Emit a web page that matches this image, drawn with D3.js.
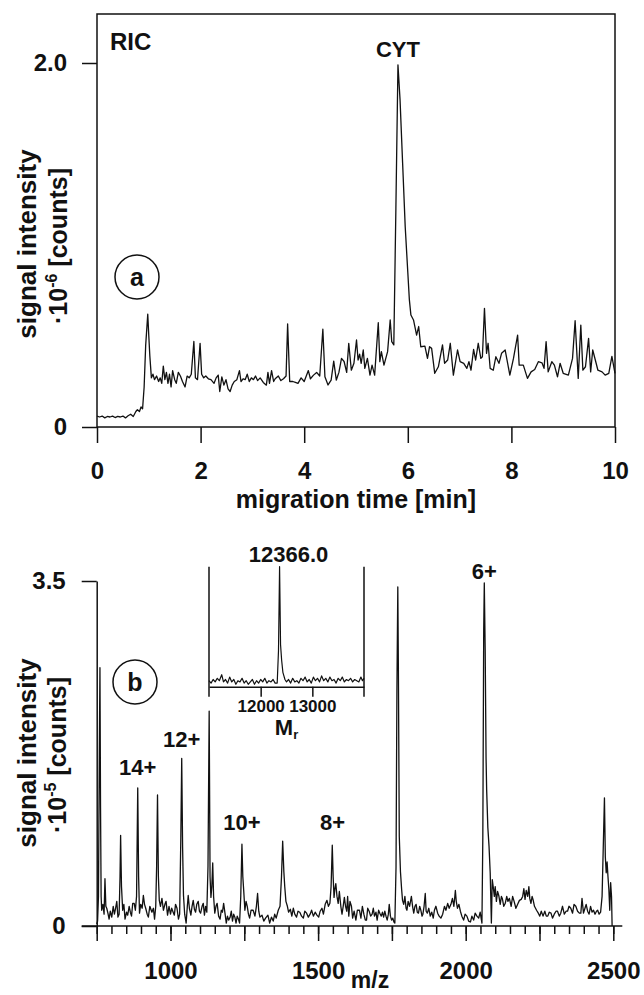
<!DOCTYPE html>
<html>
<head>
<meta charset="utf-8">
<script src="https://cdn.jsdelivr.net/npm/d3@7"></script>
<style>
  html, body { margin: 0; padding: 0; background: #fff; }
  svg { display: block; }
  text { font-family: "Liberation Sans", Arial, Helvetica, sans-serif; font-weight: bold; fill: #111; }
</style>
</head>
<body>
<div id="chart"></div>
<script>
// Panel a: reconstructed ion chromatogram, [migration time (min), intensity ·10^-6]
const ricData = [
  [0.00,0.06],[0.05,0.055],[0.10,0.06],[0.15,0.05],[0.20,0.058],[0.25,0.055],[0.30,0.06],[0.35,0.052],
  [0.40,0.058],[0.45,0.055],[0.50,0.06],[0.55,0.05],[0.60,0.062],[0.65,0.07],[0.70,0.058],[0.75,0.085],
  [0.78,0.095],[0.82,0.085],[0.85,0.11],[0.88,0.10],[0.91,0.22],[0.94,0.45],[0.98,0.62],[1.00,0.50],
  [1.02,0.39],[1.05,0.27],[1.08,0.29],[1.11,0.26],[1.15,0.28],[1.19,0.25],[1.22,0.27],[1.25,0.24],
  [1.28,0.335],[1.31,0.26],[1.34,0.30],[1.37,0.24],[1.40,0.29],[1.43,0.22],[1.46,0.31],[1.50,0.26],
  [1.53,0.24],[1.57,0.30],[1.61,0.28],[1.65,0.25],[1.70,0.22],[1.74,0.28],[1.78,0.27],[1.82,0.29],
  [1.87,0.47],[1.90,0.27],[1.94,0.26],[1.99,0.46],[2.02,0.29],[2.06,0.27],[2.10,0.28],[2.15,0.265],
  [2.20,0.26],[2.26,0.24],[2.30,0.27],[2.34,0.285],[2.37,0.195],[2.41,0.275],[2.45,0.23],[2.49,0.26],
  [2.53,0.21],[2.57,0.195],[2.61,0.23],[2.65,0.25],[2.70,0.26],[2.75,0.31],[2.78,0.25],[2.82,0.265],
  [2.86,0.26],[2.90,0.29],[2.94,0.25],[2.98,0.27],[3.02,0.26],[3.06,0.28],[3.10,0.255],[3.15,0.27],
  [3.21,0.245],[3.27,0.23],[3.30,0.30],[3.33,0.24],[3.37,0.31],[3.41,0.25],[3.44,0.265],[3.50,0.28],
  [3.55,0.255],[3.60,0.265],[3.65,0.28],[3.68,0.566],[3.72,0.25],[3.78,0.25],[3.83,0.245],[3.88,0.24],
  [3.94,0.27],[4.00,0.25],[4.08,0.31],[4.12,0.265],[4.18,0.285],[4.24,0.30],[4.30,0.28],[4.36,0.537],
  [4.40,0.276],[4.46,0.231],[4.52,0.258],[4.57,0.362],[4.62,0.258],[4.67,0.30],[4.72,0.377],[4.77,0.36],
  [4.82,0.30],[4.86,0.46],[4.91,0.312],[4.96,0.35],[5.01,0.478],[5.04,0.368],[5.07,0.40],[5.10,0.35],
  [5.14,0.423],[5.17,0.322],[5.22,0.377],[5.27,0.285],[5.31,0.34],[5.36,0.285],[5.43,0.573],[5.46,0.359],
  [5.49,0.414],[5.54,0.34],[5.61,0.414],[5.66,0.588],[5.69,0.469],[5.73,0.451],[5.77,1.2],[5.81,1.99],
  [5.85,1.8],[5.90,1.45],[5.95,1.1],[6.00,0.85],[6.03,0.70],[6.06,0.615],[6.11,0.588],[6.17,0.505],
  [6.21,0.552],[6.25,0.441],[6.33,0.444],[6.38,0.377],[6.42,0.441],[6.46,0.432],[6.52,0.295],[6.59,0.331],
  [6.67,0.451],[6.71,0.35],[6.77,0.368],[6.82,0.46],[6.88,0.285],[6.96,0.423],[7.01,0.359],[7.08,0.35],
  [7.14,0.322],[7.18,0.359],[7.22,0.312],[7.27,0.426],[7.31,0.368],[7.36,0.46],[7.41,0.377],[7.44,0.386],
  [7.48,0.652],[7.52,0.405],[7.55,0.46],[7.59,0.322],[7.65,0.312],[7.70,0.386],[7.76,0.35],[7.81,0.405],
  [7.88,0.423],[7.97,0.285],[8.04,0.377],[8.12,0.505],[8.15,0.34],[8.23,0.34],[8.31,0.267],[8.38,0.303],
  [8.45,0.316],[8.52,0.359],[8.59,0.353],[8.63,0.322],[8.67,0.469],[8.71,0.303],[8.78,0.359],[8.83,0.34],
  [8.89,0.276],[8.94,0.35],[9.00,0.295],[9.10,0.285],[9.18,0.377],[9.23,0.584],[9.29,0.267],[9.34,0.56],
  [9.38,0.312],[9.43,0.331],[9.49,0.487],[9.53,0.303],[9.57,0.423],[9.62,0.368],[9.67,0.312],[9.75,0.303],
  [9.81,0.285],[9.88,0.295],[9.94,0.388],[10.0,0.295]
];

// Panel b: mass spectrum, [m/z, intensity ·10^-5]
const msData = [
  [750,0.02],[753,0.05],[756,0.3],[759,1.8],[761,2.62],[763,1.2],[765,0.3],[767,0.16],[771,0.22],[775,0.12],
  [778,0.48],[781,0.2],[784,0.18],[788,0.13],[792,0.07],[796,0.15],[801,0.09],[806,0.2],[810,0.12],[814,0.18],
  [818,0.25],[822,0.09],[826,0.12],[829,0.5],[831,0.92],[834,0.4],[838,0.16],[842,0.22],[846,0.07],[851,0.14],
  [855,0.11],[860,0.2],[864,0.14],[868,0.1],[872,0.23],[877,0.23],[881,0.16],[885,0.3],[889,1.40],[892,0.5],
  [895,0.13],[899,0.22],[904,0.18],[908,0.31],[912,0.22],[916,0.18],[921,0.12],[925,0.09],[930,0.2],[937,0.14],
  [942,0.18],[946,0.07],[950,0.2],[953,0.6],[956,1.33],[959,0.5],[962,0.26],[966,0.2],[971,0.28],[976,0.16],
  [981,0.22],[985,0.25],[990,0.11],[995,0.2],[1000,0.12],[1004,0.18],[1009,0.14],[1013,0.11],[1017,0.22],[1022,0.18],
  [1027,0.07],[1031,0.12],[1035,0.9],[1038,1.70],[1041,0.8],[1044,0.31],[1048,0.12],[1053,0.03],[1057,0.2],[1060,0.31],
  [1064,0.18],[1069,0.11],[1073,0.2],[1077,0.26],[1081,0.17],[1085,0.14],[1089,0.22],[1094,0.25],[1098,0.15],[1102,0.13],
  [1107,0.2],[1111,0.23],[1115,0.11],[1119,0.2],[1123,0.14],[1127,0.6],[1131,2.18],[1134,0.5],[1137,0.29],[1140,0.4],
  [1143,0.64],[1146,0.3],[1150,0.13],[1154,0.2],[1158,0.23],[1163,0.1],[1168,0.07],[1172,0.16],[1176,0.14],[1180,0.23],
  [1185,0.12],[1189,0.03],[1193,0.1],[1197,0.06],[1202,0.09],[1206,0.15],[1210,0.05],[1214,0.12],[1218,0.09],[1222,0.03],
  [1226,0.1],[1230,0.07],[1234,0.03],[1238,0.3],[1242,0.83],[1245,0.5],[1248,0.36],[1252,0.16],[1256,0.25],[1260,0.2],
  [1264,0.12],[1268,0.08],[1273,0.16],[1280,0.16],[1286,0.1],[1291,0.2],[1295,0.33],[1299,0.15],[1303,0.09],[1310,0.11],
  [1316,0.05],[1322,0.08],[1330,0.11],[1336,0.03],[1342,0.09],[1348,0.05],[1353,0.12],[1358,0.08],[1365,0.16],[1371,0.2],
  [1376,0.5],[1380,0.86],[1384,0.55],[1387,0.40],[1391,0.25],[1396,0.2],[1400,0.14],[1406,0.17],[1411,0.1],[1416,0.18],
  [1421,0.12],[1427,0.09],[1432,0.15],[1438,0.14],[1444,0.1],[1450,0.08],[1455,0.15],[1461,0.13],[1467,0.09],[1473,0.12],
  [1478,0.16],[1484,0.1],[1490,0.14],[1496,0.11],[1502,0.09],[1507,0.15],[1513,0.18],[1518,0.12],[1524,0.22],[1530,0.26],
  [1535,0.2],[1540,0.23],[1544,0.4],[1548,0.82],[1551,0.5],[1554,0.29],[1557,0.38],[1560,0.43],[1564,0.3],[1568,0.23],
  [1572,0.35],[1577,0.2],[1581,0.12],[1585,0.2],[1589,0.29],[1593,0.2],[1597,0.15],[1600,0.30],[1604,0.1],[1608,0.25],
  [1613,0.2],[1617,0.08],[1622,0.15],[1628,0.06],[1633,0.16],[1640,0.16],[1645,0.08],[1650,0.2],[1655,0.12],[1660,0.06],
  [1664,0.06],[1668,0.18],[1673,0.15],[1678,0.1],[1683,0.12],[1687,0.18],[1691,0.1],[1696,0.14],[1700,0.06],[1705,0.16],
  [1709,0.13],[1714,0.10],[1718,0.14],[1722,0.09],[1726,0.15],[1730,0.1],[1734,0.06],[1738,0.12],[1741,0.22],[1745,0.1],
  [1749,0.06],[1753,0.08],[1757,0.04],[1760,0.03],[1764,0.6],[1767,2.4],[1770,3.44],[1772,2.6],[1775,0.91],[1779,0.55],
  [1783,0.37],[1786,0.26],[1790,0.22],[1794,0.30],[1798,0.18],[1801,0.16],[1805,0.25],[1810,0.2],[1816,0.30],[1820,0.2],
  [1824,0.13],[1828,0.2],[1832,0.22],[1836,0.14],[1840,0.13],[1844,0.2],[1848,0.16],[1852,0.1],[1855,0.12],[1859,0.2],
  [1863,0.33],[1866,0.15],[1870,0.13],[1875,0.18],[1880,0.10],[1885,0.14],[1890,0.08],[1894,0.16],[1899,0.2],[1905,0.13],
  [1910,0.1],[1916,0.08],[1922,0.12],[1928,0.20],[1933,0.16],[1939,0.23],[1944,0.18],[1950,0.22],[1955,0.28],[1960,0.2],
  [1965,0.36],[1968,0.25],[1972,0.18],[1977,0.22],[1982,0.15],[1987,0.1],[1993,0.06],[1998,0.12],[2004,0.10],[2010,0.05],
  [2016,0.04],[2021,0.1],[2027,0.06],[2032,0.13],[2038,0.1],[2044,0.08],[2049,0.14],[2055,0.03],[2058,0.9],[2061,3.0],
  [2063,3.48],[2066,2.8],[2069,1.7],[2071,1.38],[2075,1.0],[2079,0.81],[2083,0.54],[2087,0.03],[2090,0.47],[2094,0.38],
  [2097,0.30],[2100,0.40],[2104,0.25],[2108,0.35],[2112,0.31],[2117,0.22],[2121,0.3],[2124,0.28],[2129,0.2],[2134,0.23],
  [2139,0.3],[2143,0.25],[2148,0.28],[2154,0.20],[2159,0.3],[2164,0.25],[2170,0.18],[2176,0.22],[2182,0.26],[2188,0.27],
  [2193,0.3],[2197,0.38],[2201,0.27],[2205,0.36],[2210,0.3],[2214,0.40],[2217,0.28],[2221,0.23],[2225,0.3],[2228,0.27],
  [2233,0.2],[2240,0.16],[2246,0.13],[2251,0.1],[2256,0.15],[2262,0.1],[2268,0.15],[2273,0.1],[2278,0.1],[2283,0.14],
  [2289,0.13],[2294,0.08],[2300,0.12],[2306,0.15],[2311,0.15],[2317,0.1],[2322,0.13],[2328,0.2],[2334,0.12],[2340,0.15],
  [2345,0.15],[2350,0.2],[2356,0.18],[2362,0.13],[2367,0.22],[2373,0.2],[2379,0.15],[2385,0.13],[2390,0.13],[2394,0.28],
  [2399,0.13],[2404,0.18],[2408,0.22],[2413,0.15],[2418,0.12],[2423,0.2],[2428,0.14],[2433,0.16],[2438,0.12],[2443,0.15],
  [2447,0.16],[2452,0.12],[2457,0.14],[2462,0.3],[2466,0.8],[2470,1.30],[2473,0.7],[2476,0.54],[2479,0.65],[2482,0.5],
  [2485,0.37],[2488,0.16],[2491,0.44],[2494,0.3],[2496,0.0]
];

// Inset: deconvoluted spectrum, [Mr, relative intensity]
const insetData = [
  [11000,0.05],[11040,0.03],[11080,0.06],[11120,0.04],[11160,0.07],[11200,0.05],[11246,0.10],[11280,0.04],
  [11320,0.06],[11360,0.03],[11400,0.08],[11440,0.04],[11480,0.06],[11520,0.02],[11560,0.05],[11600,0.04],
  [11640,0.07],[11680,0.03],[11720,0.05],[11760,0.02],[11800,0.04],[11840,0.06],[11880,0.02],[11920,0.05],
  [11960,0.03],[12000,0.06],[12040,0.04],[12080,0.07],[12120,0.03],[12160,0.05],[12200,0.04],[12240,0.06],
  [12280,0.03],[12320,0.03],[12345,0.3],[12366,1.0],[12385,0.35],[12406,0.22],[12430,0.12],[12470,0.06],
  [12500,0.04],[12540,0.06],[12580,0.03],[12620,0.07],[12660,0.04],[12700,0.05],[12740,0.03],[12780,0.07],
  [12820,0.05],[12860,0.08],[12900,0.04],[12940,0.06],[12980,0.03],[13020,0.08],[13060,0.05],[13100,0.07],
  [13140,0.04],[13180,0.09],[13220,0.05],[13260,0.07],[13300,0.04],[13340,0.08],[13380,0.05],[13420,0.06],
  [13460,0.03],[13500,0.07],[13540,0.05],[13580,0.08],[13620,0.04],[13660,0.06],[13700,0.05],[13740,0.07],
  [13780,0.04],[13820,0.06],[13860,0.05],[13900,0.04],[13940,0.08],[13970,0.05],[14000,0.07]
];

const ricTicksX = [0, 2, 4, 6, 8, 10];
const ricTicksY = [0, 2.0];
const msTicksY = [0, 3.5];
const msMajorTicks = [750, 1000, 1250, 1500, 1750, 2000, 2250, 2500];
const msLabelTicks = [1000, 1500, 2000, 2500];
const insetTicks = [12000, 13000];

// charge-state labels: [text, m/z of peak, intensity level of label baseline]
const chargeLabels = [
  ['14+', 889, 1.53],
  ['12+', 1038, 1.82],
  ['10+', 1242, 0.97],
  ['8+', 1549, 0.97],
  ['6+', 2063, 3.52]
];

const W = 644, H = 995;
const svg = d3.select('#chart').append('svg')
  .attr('width', W).attr('height', H)
  .attr('viewBox', `0 0 ${W} ${H}`);

const FS = 24; // tick label font size

function styleAxis(g, size) {
  g.attr('font-family', null).attr('font-size', null);
  g.selectAll('line').attr('stroke', '#111').attr('stroke-width', 1.5);
  g.selectAll('path.domain').attr('stroke', '#111').attr('stroke-width', 1.5);
  g.selectAll('text').style('font-size', `${size}px`).attr('fill', '#111');
}

function yTitle(cx, cy, x2, exp) {
  svg.append('text')
    .attr('transform', `translate(${cx},${cy}) rotate(-90)`)
    .attr('text-anchor', 'middle')
    .style('font-size', '26px')
    .text('signal intensity');
  const t = svg.append('text')
    .attr('transform', `translate(${x2},${cy + 2}) rotate(-90)`)
    .attr('text-anchor', 'middle')
    .style('font-size', '25px');
  t.append('tspan').text('·10');
  t.append('tspan').attr('dy', -10).style('font-size', '16px').text(exp);
  t.append('tspan').attr('dy', 10).text(' [counts]');
}

function circleLabel(cx, cy, letter) {
  svg.append('circle').attr('cx', cx).attr('cy', cy).attr('r', 22)
    .attr('fill', 'none').attr('stroke', '#111').attr('stroke-width', 1.5);
  svg.append('text').attr('x', cx).attr('y', cy + 8.5)
    .attr('text-anchor', 'middle').style('font-size', '25px').text(letter);
}

// ---------- panel a ----------
const xA = d3.scaleLinear().domain([0, 10]).range([97, 615]);
const yA = d3.scaleLinear().domain([0, 2]).range([427, 63]);
const topA = 14;

svg.append('rect')
  .attr('x', xA(0)).attr('y', topA)
  .attr('width', xA(10) - xA(0)).attr('height', yA(0) - topA)
  .attr('fill', 'none').attr('stroke', '#111').attr('stroke-width', 1.5);

svg.append('g').attr('transform', `translate(0,${yA(0)})`)
  .call(d3.axisBottom(xA).tickValues(ricTicksX).tickSize(16).tickPadding(19).tickSizeOuter(0))
  .call((g) => g.select('.domain').remove())
  .call((g) => styleAxis(g, FS));

svg.append('g').attr('transform', `translate(${xA(0)},0)`)
  .call(d3.axisLeft(yA).tickValues(ricTicksY).tickSize(15).tickPadding(15)
    .tickFormat((d) => (d === 0 ? '0' : d3.format('.1f')(d))))
  .call((g) => g.select('.domain').remove())
  .call((g) => styleAxis(g, FS));

const lineA = d3.line().x((d) => xA(d[0])).y((d) => yA(d[1]));
svg.append('path').datum(ricData)
  .attr('d', lineA).attr('fill', 'none')
  .attr('stroke', '#111').attr('stroke-width', 1.3).attr('stroke-linejoin', 'round');

svg.append('text').attr('x', 110).attr('y', 50).style('font-size', '24px').text('RIC');
svg.append('text').attr('x', xA(5.81)).attr('y', yA(1.99) - 8)
  .attr('text-anchor', 'middle').style('font-size', '22px').text('CYT');
circleLabel(137, 277, 'a');

svg.append('text').attr('x', (xA(0) + xA(10)) / 2).attr('y', 508)
  .attr('text-anchor', 'middle').style('font-size', '25px').text('migration time [min]');
yTitle(36, 244, 67, '-6');

// ---------- panel b ----------
const xB = d3.scaleLinear().domain([750, 2500]).range([96.7, 613.3]);
const yB = d3.scaleLinear().domain([0, 3.5]).range([926, 581]);

// baseline of the spectrum, drawn a little past both ends
svg.append('line')
  .attr('x1', xB(750) - 15).attr('x2', xB(2500) + 9)
  .attr('y1', yB(0)).attr('y2', yB(0))
  .attr('stroke', '#111').attr('stroke-width', 1.5);

svg.append('g').attr('transform', `translate(0,${yB(0)})`)
  .call(d3.axisBottom(xB).tickValues(d3.range(750, 2501, 50)).tickSize(8).tickFormat(''))
  .call((g) => g.select('.domain').remove())
  .call((g) => styleAxis(g, FS));

svg.append('g').attr('transform', `translate(0,${yB(0)})`)
  .call(d3.axisBottom(xB).tickValues(msMajorTicks).tickSize(15).tickPadding(21)
    .tickFormat((d) => (msLabelTicks.includes(d) ? d : '')))
  .call((g) => g.select('.domain').remove())
  .call((g) => styleAxis(g, FS));

svg.append('g').attr('transform', `translate(${xB(750)},0)`)
  .call(d3.axisLeft(yB).tickValues(msTicksY).tickSize(15).tickPadding(16).tickSizeOuter(0)
    .tickFormat((d) => (d === 0 ? '0' : d3.format('.1f')(d))))
  .call((g) => styleAxis(g, FS));

const lineB = d3.line().x((d) => xB(d[0])).y((d) => yB(d[1]));
svg.append('path').datum(msData)
  .attr('d', lineB).attr('fill', 'none')
  .attr('stroke', '#111').attr('stroke-width', 1.3).attr('stroke-linejoin', 'round');

svg.selectAll('text.charge').data(chargeLabels).join('text')
  .attr('class', 'charge')
  .attr('x', (d) => xB(d[1]))
  .attr('y', (d) => yB(d[2]))
  .attr('text-anchor', 'middle')
  .style('font-size', '22px')
  .text((d) => d[0]);

circleLabel(135, 682, 'b');

svg.append('text').attr('x', 370).attr('y', 988)
  .attr('text-anchor', 'middle').style('font-size', '23px').text('m/z');
yTitle(36, 753, 66, '-5');

// ---------- inset ----------
const xI = d3.scaleLinear().domain([11000, 14000]).range([209, 364]);
const yI = d3.scaleLinear().domain([0, 1]).range([686.7, 566.7]);

svg.append('g').attr('transform', `translate(0,${yI(0)})`)
  .call(d3.axisBottom(xI).tickValues(insetTicks).tickSize(10).tickPadding(3).tickSizeOuter(0)
    .tickFormat(d3.format('d')))
  .call((g) => styleAxis(g, 17));

[11000, 14000].forEach((m) => {
  svg.append('line')
    .attr('x1', xI(m)).attr('x2', xI(m))
    .attr('y1', yI(1)).attr('y2', yI(0) + 10)
    .attr('stroke', '#111').attr('stroke-width', 1.5);
});

const lineI = d3.line().x((d) => xI(d[0])).y((d) => yI(d[1]));
svg.append('path').datum(insetData)
  .attr('d', lineI).attr('fill', 'none')
  .attr('stroke', '#111').attr('stroke-width', 1.2).attr('stroke-linejoin', 'round');

svg.append('text').attr('x', xI(12366) + 9).attr('y', yI(1) - 5)
  .attr('text-anchor', 'middle').style('font-size', '22px').text('12366.0');

const mr = svg.append('text').attr('x', xI(12500)).attr('y', 735)
  .attr('text-anchor', 'middle').style('font-size', '22px');
mr.append('tspan').text('M');
mr.append('tspan').attr('dy', 4).style('font-size', '13px').text('r');
</script>
</body>
</html>
